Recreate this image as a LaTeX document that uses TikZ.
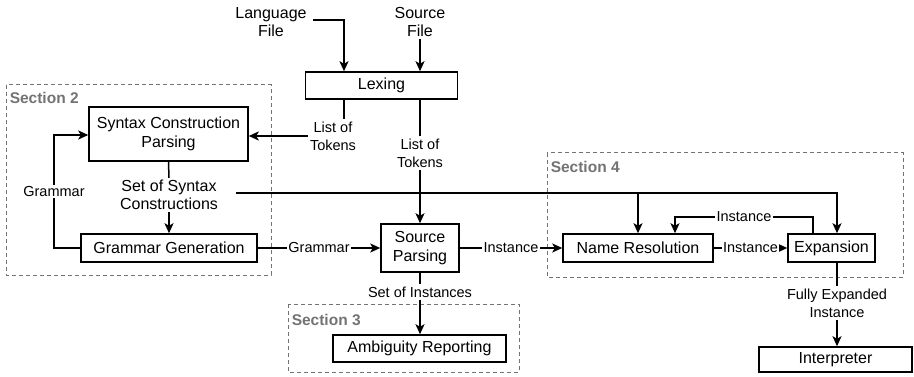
\documentclass[tikz,border=0pt]{standalone}
\usepackage{fontspec}
\setmainfont{Liberation Sans}
\usetikzlibrary{arrows.meta,calc}
\begin{document}
\begin{tikzpicture}[x=1pt,y=-1pt,
  line width=1.5pt,
  box/.style={draw,rectangle,inner sep=0pt,font=\fontsize{16}{18.5}\selectfont,align=center},
  lbl/.style={inner sep=1.5pt,font=\fontsize{14.5}{18}\selectfont,align=center},
  toplbl/.style={inner sep=1.5pt,font=\fontsize{16}{18}\selectfont,align=center},
  lblw/.style={lbl,fill=white},
  arr/.style={-{Stealth[length=10pt,width=9pt,inset=2.5pt]}},
  sect/.style={draw=black!55,dashed,line width=1pt,dash pattern=on 4pt off 3pt},
  secttxt/.style={anchor=west,inner sep=0pt,text=black!55,font=\fontsize{15.5}{18}\selectfont\bfseries}]
\useasboundingbox (0,0) rectangle (914,377);

% sections
\draw[sect] (6,85) rectangle (271,275);
\node[secttxt] (s2) at (9,98) {Section 2};
\draw[sect] (288,304) rectangle (519,372);
\node[secttxt] (s3) at (291,320) {Section 3};
\draw[sect] (547,153) rectangle (903,277);
\node[secttxt] (s4) at (550,167) {Section 4};

% boxes
\node[box,minimum width=152pt,minimum height=27pt] (lexing) at (381.5,85.5) {Lexing};
\node[box,minimum width=159pt,minimum height=54pt] (syn) at (168.5,134) {Syntax Construction\\Parsing};
\node[box,minimum width=176pt,minimum height=28pt] (gg) at (169,248) {Grammar Generation};
\node[box,minimum width=78pt,minimum height=48pt] (sp) at (420,248) {Source\\Parsing};
\node[box,minimum width=150pt,minimum height=28pt] (nr) at (638,248) {Name Resolution};
\node[box,minimum width=87pt,minimum height=28pt] (ex) at (831.5,248) {Expansion};
\node[box,minimum width=153pt,minimum height=25pt] (interp) at (835.5,359.5) {Interpreter};
\node[box,minimum width=173pt,minimum height=27pt] (amb) at (419.5,348.5) {Ambiguity Reporting};

% labels
\node[toplbl] (lang) at (271,22) {Language\\File};
\node[toplbl] (src) at (420,22) {Source\\File};
\node[lbl] (lt1) at (333,136) {List of\\Tokens};
\node[lbl] (lt2) at (420,153) {List of\\Tokens};
\node[toplbl] (soc) at (169,195) {Set of Syntax\\Constructions};
\node[lbl] (soi) at (420,292) {Set of Instances};
\node[lbl] (fei) at (837,303) {Fully Expanded\\Instance};
\coordinate (gl) at (54,248);
\coordinate (gu) at (54,135);
\coordinate (fb1) at (813,217);
\coordinate (fb2) at (675,217);
\coordinate (lj) at (344,20);

% connectors
\draw[arr] (lang.east |- lj) ++(4,0) -- (lj) -- (lexing.north -| lj);
\draw[arr] (src.south) -- (lexing.north -| src);
\draw (lexing.south -| lj) -- (lt1.north -| lj);
\draw[arr] (lt1.west) -- (syn.east |- lt1.west);
\draw (lexing.south -| lt2) -- (lt2.north);
\draw[arr] (lt2.south) -- (sp.north);
\draw (syn.south) -- (soc.north);
\draw[arr] (soc.south) -- (gg.north);
\draw (gg.west) -- (gl) -- node[lblw]{Grammar} (gu) [arr] -- (syn.west |- gu);
\draw[arr] (gg.east) -- node[lblw]{Grammar} (sp.west);
\draw[arr] ([shift={(16,-2)}]soc.east) -| (nr.north);
\draw[arr] ([shift={(16,-2)}]soc.east) -| (ex.north -| fei);
\draw[arr] (sp.east) -- node[lblw]{Instance} (nr.west);
\draw[arr] (nr.east) -- node[lblw]{Instance} (ex.west);
\draw[arr] (ex.north -| fb1) -- (fb1) -- node[lblw]{Instance} (fb2) -- (nr.north -| fb2);
\draw (ex.south -| fei) -- (fei.north);
\draw[arr] (fei.south) -- (interp.north -| fei);
\draw (sp.south) -- (soi.north);
\draw[arr] (soi.south) -- (amb.north -| soi);
\end{tikzpicture}
\end{document}
